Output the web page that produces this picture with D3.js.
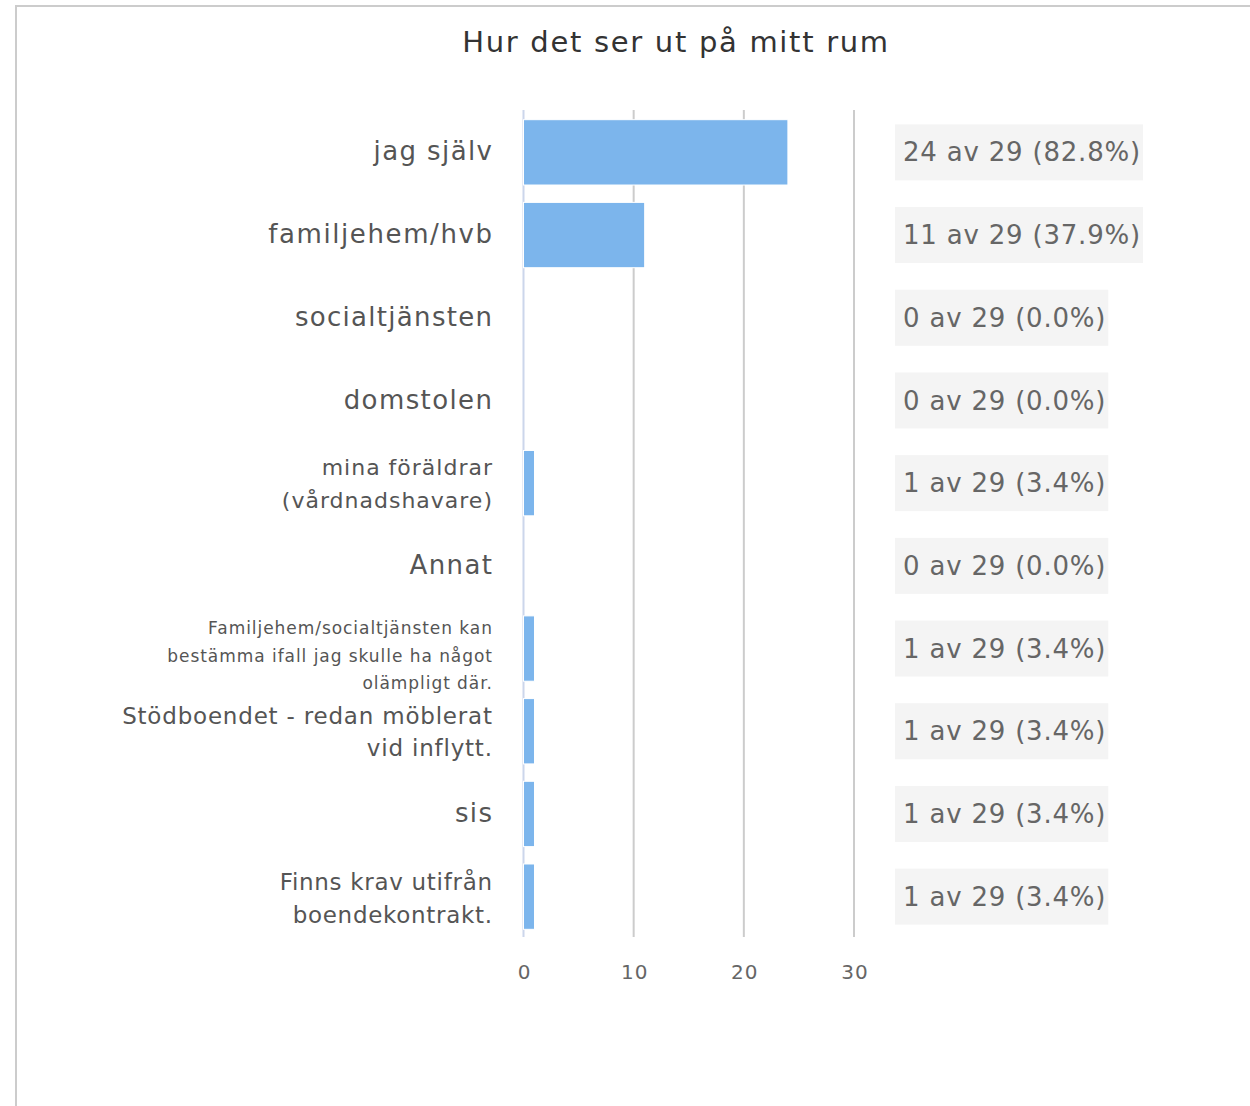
<html>
<head>
<meta charset="utf-8">
<script src="https://d3js.org/d3.v7.min.js"></script>
<style>
body { margin: 0; background: #fff; font-family: 'DejaVu Sans', sans-serif; }
</style>
</head>
<body>
<div id="chart"></div>
<script>

// data
var categories = ["jag själv", "familjehem/hvb", "socialtjänsten", "domstolen",
  "mina föräldrar (vårdnadshavare)", "Annat",
  "Familjehem/socialtjänsten kan bestämma ifall jag skulle ha något olämpligt där.",
  "Stödboendet - redan möblerat vid inflytt.", "sis",
  "Finns krav utifrån boendekontrakt."];
var counts = [24, 11, 0, 0, 1, 0, 1, 1, 1, 1];
var total = 29;
var xTicks = [0, 10, 20, 30];
var title = "Hur det ser ut på mitt rum";

// how the long labels wrap in the picture
var labelLines = [
  ["jag själv"], ["familjehem/hvb"], ["socialtjänsten"], ["domstolen"],
  ["mina föräldrar", "(vårdnadshavare)"], ["Annat"],
  ["Familjehem/socialtjänsten kan", "bestämma ifall jag skulle ha något", "olämpligt där."],
  ["Stödboendet - redan möblerat", "vid inflytt."], ["sis"],
  ["Finns krav utifrån", "boendekontrakt."]
];
var labelSize = [26, 26, 26, 26, 22, 26, 17, 23, 26, 23];
var labelSpacing = [1.4, 1.6, 1.3, 1.4, 1, 1.4, 0.95, 0.8, 1.4, 0.7];
var lineGap = [0, 0, 0, 0, 33, 0, 27.5, 32, 0, 33];
var labelShift = [0, 0, 0, 0, 2, 0, 8, 2, 0, 3];

var width = 1250, height = 1106;

var svg = d3.select("#chart").append("svg")
  .attr("width", width).attr("height", height);

// frame
svg.append("rect")
  .attr("x", 16).attr("y", 6)
  .attr("width", 1400).attr("height", 1300)
  .style("fill", "none").style("stroke", "#ccc").style("stroke-width", 2);

svg.append("text")
  .attr("x", 676).attr("y", 52)
  .attr("text-anchor", "middle")
  .style("font-size", "29px").style("fill", "#333")
  .style("letter-spacing", "1.7px")
  .text(title);

var xScale = d3.scaleLinear().domain([0, 30]).range([523.5, 854]);
var yScale = d3.scaleBand().domain(categories).range([110, 937])
  .paddingInner(0.21).paddingOuter(0.105);

// grid
svg.append("g").selectAll("line").data(xTicks).enter().append("line")
  .attr("x1", function (d) { return xScale(d); })
  .attr("x2", function (d) { return xScale(d); })
  .attr("y1", 110).attr("y2", 937)
  .style("stroke", function (d) { return d === 0 ? "#ccd6eb" : "#ccc"; })
  .style("stroke-width", 2);

var xAxis = d3.axisBottom(xScale).tickValues(xTicks).tickSize(0).tickPadding(0);
var gx = svg.append("g").attr("transform", "translate(0.5,965)").call(xAxis);
gx.select(".domain").remove();
gx.selectAll("text").style("font-size", "20px").style("fill", "#666")
  .style("letter-spacing", "1px")
  .style("font-family", "'DejaVu Sans', sans-serif");

// bars
svg.append("g").selectAll("rect").data(counts).enter().append("rect")
  .attr("x", xScale(0))
  .attr("y", function (d, i) { return yScale(categories[i]) + 1; })
  .attr("width", function (d) { return xScale(d) - xScale(0); })
  .attr("height", yScale.bandwidth())
  .style("fill", "#7cb5ec")
  .style("stroke", function (d) { return d > 0 ? "#fff" : "none"; })
  .style("stroke-width", 1);

// category labels
var labels = svg.append("g").selectAll("text").data(categories).enter().append("text")
  .attr("text-anchor", "end")
  .style("fill", "#555")
  .style("font-size", function (d, i) { return labelSize[i] + "px"; })
  .style("letter-spacing", function (d, i) { return labelSpacing[i] + "px"; })
  .attr("transform", function (d, i) {
    return "translate(" + (492 + labelSpacing[i]) + "," +
      (yScale(d) + yScale.bandwidth() / 2 + labelShift[i]) + ")";
  });
labels.each(function (d, i) {
  var lines = labelLines[i];
  var g = d3.select(this);
  lines.forEach(function (line, j) {
    g.append("tspan").attr("x", 0)
      .attr("y", (j - (lines.length - 1) / 2) * lineGap[i])
      .attr("dy", "0.35em")
      .text(line);
  });
});

// value boxes on the right
var boxes = svg.append("g").selectAll("g").data(counts).enter().append("g")
  .attr("transform", function (d, i) {
    return "translate(895," + (yScale(categories[i]) + yScale.bandwidth() / 2 + 1) + ")";
  });
boxes.append("rect").attr("class", "bg")
  .attr("y", -28).attr("height", 56)
  .style("fill", "#f4f4f4");
boxes.append("text")
  .attr("x", 8).attr("dy", "0.35em")
  .style("font-size", "26px").style("fill", "#666")
  .style("letter-spacing", "0.8px")
  .text(function (d) {
    return d + " av " + total + " (" + (d / total * 100).toFixed(1) + "%)";
  });
boxes.each(function () {
  var t = d3.select(this).select("text").node().getBBox().width;
  d3.select(this).select("rect.bg").attr("width", t + 10);
});

</script>
</body>
</html>
